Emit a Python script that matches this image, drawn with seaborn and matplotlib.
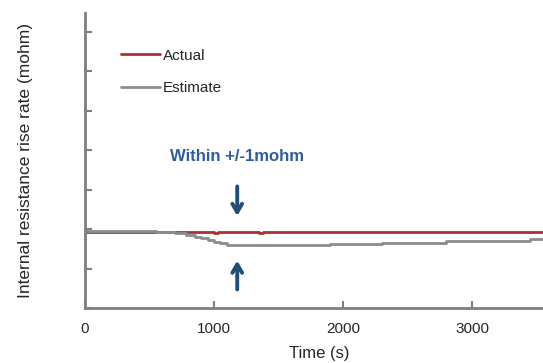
import matplotlib.pyplot as plt
import seaborn as sns
import pandas as pd

# --- data ---
actual_t = [0, 1000, 1030, 1060, 1350, 1380, 1480, 1510, 1640, 1670, 1700, 3550]
actual_v = [1.93, 1.91, 1.93, 1.93, 1.91, 1.93, 1.92, 1.93, 1.92, 1.93, 1.93, 1.93]
est_t = [0, 300, 550, 700, 780, 850, 900, 950, 1000, 1050, 1100,
         1900, 2300, 2350, 2800, 3450, 3550]
est_v = [1.95, 1.94, 1.92, 1.89, 1.85, 1.80, 1.76, 1.72, 1.68, 1.64, 1.59,
         1.61, 1.64, 1.65, 1.69, 1.74, 1.74]
xticks = [0, 1000, 2000, 3000]

df = pd.concat([
    pd.DataFrame({'t': actual_t, 'v': actual_v, 'series': 'Actual'}),
    pd.DataFrame({'t': est_t, 'v': est_v, 'series': 'Estimate'}),
])

sns.set_style('white')
plt.rcParams['font.family'] = ['Liberation Sans', 'DejaVu Sans']

RED = '#A8322F'
GREY = '#8C8C8C'
AX = '#7F7F7F'
BLUE = '#1F4E79'

fig = plt.figure(figsize=(5.43, 3.63), dpi=100)
ax = fig.add_axes([0.1565, 0.1515, 0.8435, 0.8127])

sns.lineplot(data=df, x='t', y='v', hue='series', palette={'Actual': RED, 'Estimate': GREY},
             drawstyle='steps-post', linewidth=2, ax=ax, legend=False)
ax.plot([], [], color=RED, lw=2, label='Actual')
ax.plot([], [], color=GREY, lw=2, label='Estimate')

ax.set_xlim(0, 3550)
ax.set_ylim(0, 7.47)
ax.set_xticks(xticks)
ax.set_yticks(range(0, 8))
ax.set_yticklabels([])
ax.tick_params(axis='both', direction='in', length=5, width=1.5, color=AX,
               labelsize=11, pad=10)
ax.tick_params(axis='y', left=True)
ax.tick_params(axis='x', bottom=True)
for s in ['top', 'right']:
    ax.spines[s].set_visible(False)
for s in ['left', 'bottom']:
    ax.spines[s].set_color(AX)
    ax.spines[s].set_linewidth(2)

ax.set_xlabel('Time (s)', fontsize=12)
ax.set_ylabel('Internal resistance rise rate (mohm)', fontsize=12.5)
ax.xaxis.set_label_coords(0.511, -0.128)
ax.yaxis.set_label_coords(-0.114, 0.50)

leg = ax.legend(loc='upper left', bbox_to_anchor=(0.063, 0.905), frameon=False, borderpad=0,
                fontsize=11, handlelength=2.5, handletextpad=0.2, labelspacing=1.2)

ax.text(1180, 3.83, 'Within +/-1mohm', ha='center', va='center', fontsize=12,
        fontweight='bold', color='#2E5D9C')
ax.annotate('', xy=(1180, 2.26), xytext=(1180, 3.15),
            arrowprops=dict(arrowstyle='->,head_width=0.35,head_length=0.6', color=BLUE, lw=2.8))
ax.annotate('', xy=(1180, 1.27), xytext=(1180, 0.4),
            arrowprops=dict(arrowstyle='->,head_width=0.35,head_length=0.6', color=BLUE, lw=2.8))

fig.savefig('out.png', dpi=100)
